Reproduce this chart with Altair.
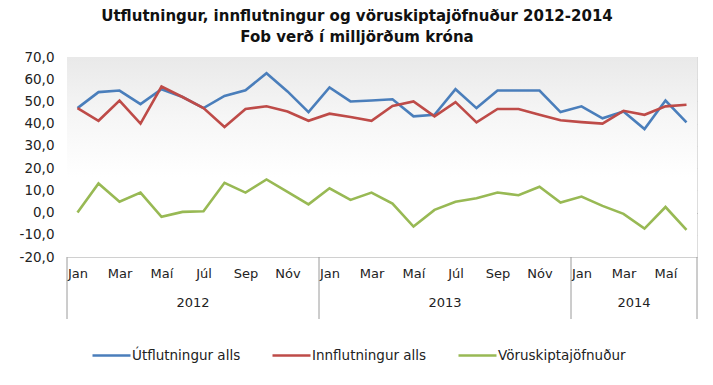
import altair as alt
import pandas as pd

# ---- data ----
month_names = ["Jan", "Feb", "Mar", "Apr", "Maí", "Jún", "Júl", "Ágú", "Sep", "Okt", "Nóv", "Des"]
years = ["2012", "2013", "2014"]
year_months = [12, 12, 6]

series_names = ["Útflutningur alls", "Innflutningur alls", "Vöruskiptajöfnuður"]
series_colors = ["#4a7ebb", "#be4b48", "#98b954"]

exports = [47.0, 54.2, 54.9, 48.8, 55.5, 52.0, 47.0, 52.5, 55.0, 62.7, 54.5, 45.2,
           56.3, 50.0, 50.4, 51.0, 43.3, 44.0, 55.5, 47.0, 54.9, 54.9, 54.9, 45.2,
           47.8, 42.4, 45.5, 37.6, 50.4, 40.6]
imports = [47.0, 41.3, 50.4, 40.0, 56.7, 52.0, 47.0, 38.5, 46.6, 47.8, 45.5, 41.3,
           44.5, 43.0, 41.3, 48.0, 50.0, 43.3, 49.7, 40.6, 46.6, 46.6, 44.0, 41.5,
           40.7, 40.0, 45.8, 44.0, 47.8, 48.5]
balance = [0.0, 13.1, 4.9, 9.0, -1.9, 0.3, 0.6, 13.4, 9.0, 14.9, 9.3, 3.7,
           10.9, 5.7, 9.0, 4.0, -6.3, 1.2, 4.9, 6.4, 9.0, 7.8, 11.6, 4.5,
           7.2, 3.0, -0.6, -7.2, 2.5, -7.8]

y_ticks = list(range(-20, 71, 10))

# ---- tables ----
n = len(exports)
rows = []
for name, vals in zip(series_names, [exports, imports, balance]):
    for i, v in enumerate(vals):
        rows.append({"idx": i, "series": name, "value": v})
df = pd.DataFrame(rows)

# year spans
bounds = [-0.5]
centers = []
start = 0
for cnt in year_months:
    centers.append(start + (cnt - 1) / 2)
    start += cnt
    bounds.append(start - 0.5)
df_sep = pd.DataFrame({"idx": bounds})
df_year = pd.DataFrame({"idx": centers, "year": years})

W, H = 630, 200
FONT = "DejaVu Sans"

x_scale = alt.Scale(domain=[-0.5, n - 0.5], nice=False, zero=False)
y_scale = alt.Scale(domain=[-20, 70], nice=False, zero=False)

month_js = "[" + ",".join("'%s'" % m for m in month_names) + "]"

x_axis = alt.Axis(values=list(range(0, n, 2)),
                  labelExpr=month_js + "[datum.value % 12]",
                  grid=False, ticks=False, domain=False, labelFlush=False,
                  labelOverlap=False,
                  labelPadding=10, labelFontSize=13, labelFont=FONT,
                  labelColor="#222222")
y_axis = alt.Axis(values=y_ticks, tickCount=len(y_ticks),
                  labelExpr="(datum.value < 0 ? '-' : '') + replace(format(abs(datum.value), '.1f'), '.', ',')",
                  grid=True,
                  gridColor=alt.condition("datum.value === 0", alt.value("#9a9a9a"), alt.value("#d0d0d0")),
                  gridWidth=1,
                  labelOverlap=False, labelFlush=False,
                  ticks=False, domain=False, labelPadding=13,
                  labelFontSize=13.5, labelFont=FONT, labelColor="#222222")

bg = alt.Chart(pd.DataFrame({"a": [0]})).mark_rect(
    color=alt.Gradient(
        gradient="linear",
        stops=[alt.GradientStop(color="#e9e9e9", offset=0),
               alt.GradientStop(color="#f6f6f6", offset=0.3),
               alt.GradientStop(color="#ffffff", offset=0.6)],
        x1=0, x2=0, y1=0, y2=1,
    )
).encode(x=alt.value(0), x2=alt.value(W), y=alt.value(0), y2=alt.value(H))

lines = alt.Chart(df).mark_line(strokeWidth=2.6).encode(
    x=alt.X("idx:Q", scale=x_scale, title=None, axis=x_axis),
    y=alt.Y("value:Q", scale=y_scale, title=None, axis=y_axis),
    color=alt.Color("series:N",
                    scale=alt.Scale(domain=series_names, range=series_colors),
                    sort=series_names,
                    legend=alt.Legend(title=None, orient="none", direction="horizontal",
                                      legendX=24, legendY=278,
                                      symbolType="stroke", symbolSize=1444,
                                      symbolStrokeWidth=2.6, labelOffset=0,
                                      columnPadding=26, labelFontSize=13.5,
                                      labelFont=FONT, labelColor="#222222")),
    order=alt.Order("series_order:Q"),
).transform_calculate(
    series_order="indexof(" + "[" + ",".join("'%s'" % s for s in series_names) + "], datum.series)"
)

seps = alt.Chart(df_sep).mark_rule(color="#9a9a9a", strokeWidth=1).encode(
    x=alt.X("idx:Q", scale=x_scale, title=None, axis=x_axis), y=alt.value(H), y2=alt.value(H + 62)
)

year_text = alt.Chart(df_year).mark_text(
    font=FONT, fontSize=13, color="#222222", baseline="middle", align="center"
).encode(
    x=alt.X("idx:Q", scale=x_scale, title=None, axis=x_axis), y=alt.value(H + 46), text="year:N"
)

chart = alt.layer(bg, lines, seps, year_text).properties(
    width=W, height=H,
    title=alt.TitleParams(
        ["Útflutningur, innflutningur og vöruskiptajöfnuður 2012-2014",
         "Fob verð í milljörðum króna"],
        anchor="middle", frame="group", dx=-25, dy=10, offset=0,
        font=FONT, fontSize=15, fontWeight="bold", color="#111111",
        lineHeight=21, baseline="bottom",
    ),
    autosize=alt.AutoSizeParams(type="none"),
    padding={"left": 59, "top": 49, "right": 8, "bottom": 120},
).configure_view(stroke=None).configure(background="white")

chart.save("out.html", embed_options={"renderer": "svg", "actions": False})
